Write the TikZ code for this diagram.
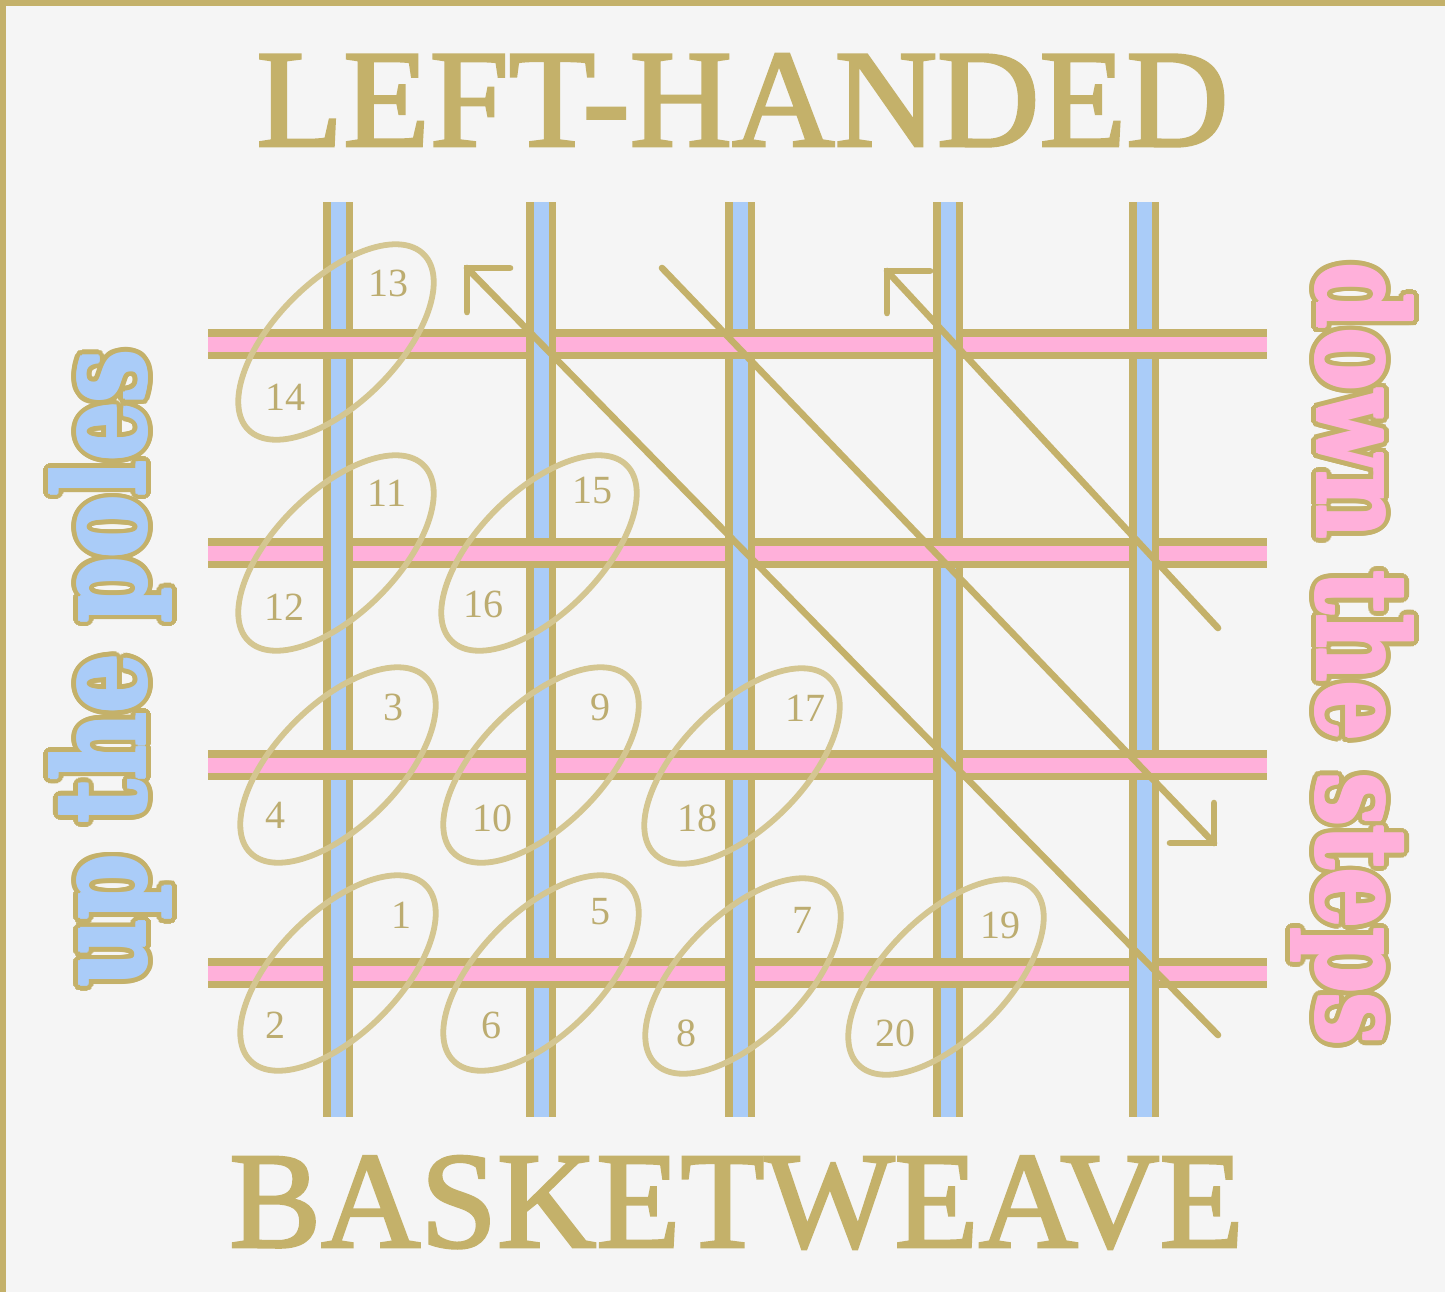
\documentclass[tikz,border=0pt]{standalone}
\usepackage{fontspec}
\usepackage{graphicx}
\usetikzlibrary{shapes.geometric,calc}
\newfontfamily\titlefont{Liberation Serif}[FakeBold=2]
\newfontfamily\numfont{Liberation Serif}
\newfontfamily\sidefont{DejaVu Serif}
\definecolor{bg}{RGB}{245,245,245}
\definecolor{gold}{RGB}{196,177,106}
\definecolor{ringgold}{RGB}{212,198,145}
\definecolor{numgold}{RGB}{188,172,112}
\definecolor{poleblue}{RGB}{170,204,248}
\definecolor{steppink}{RGB}{255,176,218}
\newcommand\uptext{\resizebox{318pt}{47.5pt}{\sidefont\bfseries up the poles}}
\newcommand\downtext{\resizebox{391pt}{47.5pt}{\sidefont\bfseries down the steps}}
\newcommand\toptitle{\resizebox{486pt}{46pt}{\titlefont LEFT-HANDED}}
\newcommand\bottitle{\resizebox{507pt}{45.5pt}{\titlefont BASKETWEAVE}}
\begin{document}
\begin{tikzpicture}[x=0.5pt,y=-0.5pt,
  diag/.style={draw=gold, line width=3.3pt, line cap=round, line join=miter},
  ring/.style={ellipse, draw=ringgold, line width=2.9pt, minimum width=124pt, minimum height=61pt, inner sep=0pt, rotate=45},
  num/.style={text=numgold, font=\numfont\fontsize{20}{24}\selectfont, inner sep=0pt},
  sidetxt/.style={anchor=base west, inner sep=0pt},
  ttl/.style={anchor=base west, inner sep=0pt, text=gold}]
\fill[bg] (0,0) rectangle (1445,1292);
\useasboundingbox (0,0) rectangle (1445,1292);
\fill[gold] (0,0) rectangle (1445,6);
\fill[gold] (0,0) rectangle (6,1292);
% steps
\foreach \y in {344,553,765,973} {
  \fill[gold] (208,\y-15) rectangle (1267,\y+15);
  \fill[steppink] (208,\y-7.5) rectangle (1267,\y+7.5);
}
% poles
\foreach \x in {338,541,740,948,1144} {
  \fill[gold] (\x-15,202) rectangle (\x+15,1117);
  \fill[poleblue] (\x-7.5,202) rectangle (\x+7.5,1117);
}
% weave: steps over poles where i+j is even
\foreach \x [count=\i from 0] in {338,541,740,948,1144} {
  \foreach \y [count=\j from 0] in {344,553,765,973} {
    \pgfmathtruncatemacro\parity{mod(\i+\j,2)}
    \ifnum\parity=0
      \fill[gold] (\x-15.5,\y-15) rectangle (\x+15.5,\y+15);
      \fill[steppink] (\x-15.5,\y-7.5) rectangle (\x+15.5,\y+7.5);
    \fi
  }
}
% rings
\node[ring] (r13) at (336,342) {};
\node[ring] (r11) at (336,553) {};
\node[ring] (r15) at (539,553) {};
\node[ring] (r3) at (338,765) {};
\node[ring] (r9) at (541,765) {};
\node[ring] (r17) at (742,766) {};
\node[ring] (r1) at (338,973) {};
\node[ring] (r5) at (541,973) {};
\node[ring] (r7) at (743,976) {};
\node[ring] (r19) at (946,977) {};
% numbers
\node[num] (n13) at (388,283) {13};
\node[num] (n14) at (285,397) {14};
\node[num] (n11) at (387,493) {11};
\node[num] (n12) at (284,607) {12};
\node[num] (n15) at (592,490) {15};
\node[num] (n16) at (483,604) {16};
\node[num] (n3) at (393,707) {3};
\node[num] (n4) at (275,815) {4};
\node[num] (n9) at (600,707) {9};
\node[num] (n10) at (492,818) {10};
\node[num] (n17) at (805,708) {17};
\node[num] (n18) at (697,818) {18};
\node[num] (n1) at (401,915) {1};
\node[num] (n2) at (275,1025) {2};
\node[num] (n5) at (600,912) {5};
\node[num] (n6) at (491,1025) {6};
\node[num] (n7) at (802,920) {7};
\node[num] (n8) at (686,1033) {8};
\node[num] (n19) at (1000,925) {19};
\node[num] (n20) at (895,1033) {20};
% diagonals
\coordinate (At) at (467,268);
\coordinate (Ae) at (1218,1035);
\coordinate (Bs) at (662,268);
\coordinate (Bt) at (1214,843);
\coordinate (Ct) at (887,271);
\coordinate (Ce) at (1218,628);
\draw[diag] (Ae) -- (At);
\draw[diag] ($(At)+(43,0)$) -- (At) -- ($(At)+(0,44)$);
\draw[diag] (Bs) -- (Bt);
\draw[diag] ($(Bt)+(-44,0)$) -- (Bt) -- ($(Bt)+(0,-40)$);
\draw[diag] (Ce) -- (Ct);
\draw[diag] ($(Ct)+(43,0)$) -- (Ct) -- ($(Ct)+(0,42)$);
% titles
\node[ttl] (title) at (256,146) {\toptitle};
\node[ttl] (subtitle) at (229,1247) {\bottitle};
% side texts with outline
\foreach \a [count=\k] in {0,15,...,345} {
  \node[sidetxt, rotate=90, text=gold] (upH\k) at ($(145,987)+(\a:6.5)$) {\uptext};
  \node[sidetxt, rotate=-90, text=gold] (downH\k) at ($(1318,263)+(\a:6.5)$) {\downtext};
}
\foreach \a [count=\k] in {0,45,...,315} {
  \node[sidetxt, rotate=90, text=poleblue] (upF\k) at ($(145,987)+(\a:1.8)$) {\uptext};
  \node[sidetxt, rotate=-90, text=steppink] (downF\k) at ($(1318,263)+(\a:1.8)$) {\downtext};
}
\node[sidetxt, rotate=90, text=poleblue] (up) at (145,987) {\uptext};
\node[sidetxt, rotate=-90, text=steppink] (down) at (1318,263) {\downtext};
\end{tikzpicture}
\end{document}
